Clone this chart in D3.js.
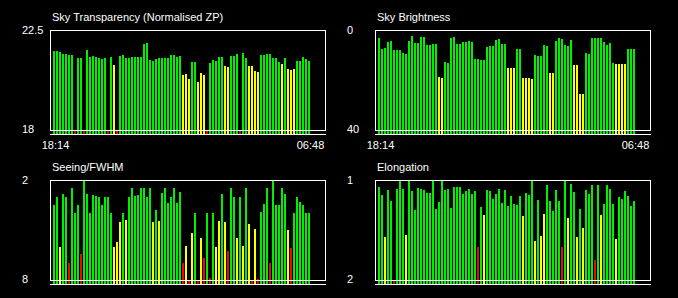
<!DOCTYPE html>
<html>
<head>
<meta charset="utf-8">
<script src="https://cdn.jsdelivr.net/npm/d3@7"></script>
<style>
  body { margin: 0; background: #000; }
  svg { display: block; }
</style>
</head>
<body>
<div class="container"></div>
<script>
// one value per slot, slots run from 18:14 to 06:48
var timeLabels = ["18:14", "06:48"];

var transparency = [21.55, 21.55, 21.51, 21.42, 21.42, 21.38, 21.38, 17.5, 21.24, 21.24,
  17.5, 21.60, 21.29, 21.33, 21.29, 21.24, 21.20, 21.24, 17.5, 21.29,
  20.93, 17.5, 21.33, 21.38, 21.24, 21.24, 21.29, 21.29, 21.29, 21.29,
  21.87, 21.92, 21.15, 21.11, 21.20, 21.24, 21.24, 21.24, 21.24, 21.38,
  21.38, 21.29, 21.33, 20.48, 20.52, 20.30, 21.06, 21.06, 20.16, 20.57,
  20.48, 17.5, 21.02, 21.15, 21.11, 21.29, 21.29, 20.88, 20.84, 21.33,
  21.33, 21.42, 17.5, 21.47, 21.24, 20.88, 20.88, 20.66, 20.61, 21.38,
  21.38, 21.42, 21.42, 21.24, 21.24, 21.06, 20.97, 21.24, 20.75, 20.70,
  20.75, 21.11, 21.11, 21.29, 21.20, 21.11];
var transparencyStatus = "gggggggrgg" + "rgggggggrg" + "yrgggggggg" + "gggggggggg" + "gggyyyggyy" +
  "yrgggggyyg" + "ggrggyyyyg" + "ggggggygyy" + "yggggg";

var brightness = [3.2, 7.6, 7.2, 4.8, 4.4, 8.0, 8.0, 8.0, 9.2, 9.6,
  4.4, 2.4, 5.2, 5.2, 2.8, 2.8, 6.0, 6.0, 5.6, 5.6,
  18.8, 19.2, 12.8, 13.2, 3.2, 2.8, 5.6, 5.6, 4.8, 4.8,
  4.4, 4.8, 11.6, 11.6, 12.0, 12.0, 6.8, 6.4, 6.4, 4.0,
  3.6, 5.6, 5.6, 15.2, 15.2, 15.2, 7.6, 7.6, 19.2, 19.2,
  19.2, 19.6, 10.0, 10.4, 10.4, 6.0, 6.4, 17.2, 17.2, 4.4,
  3.2, 3.6, 6.0, 6.4, 4.0, 14.0, 14.0, 25.6, 25.6, 9.2,
  9.6, 3.2, 3.2, 3.2, 3.2, 4.8, 6.0, 5.2, 13.2, 13.6,
  13.6, 13.6, 13.6, 7.6, 7.6, 7.6];
var brightnessStatus = "gggggggggg" + "gggggggggg" + "yygggggggg" + "gggggggggg" + "gggyyyggyy" +
  "yygggggyyg" + "gggggyyyyg" + "gggggggggy" + "yyyggg";

var seeing = [3.50, 3.02, 6.02, 2.84, 3.02, 6.98, 2.48, 3.98, 3.50, 6.44,
  2.00, 2.84, 3.98, 2.90, 2.96, 3.02, 3.50, 3.02, 3.02, 3.98,
  6.02, 5.72, 4.52, 3.98, 4.40, 3.02, 2.48, 2.96, 2.90, 2.48,
  2.48, 3.02, 2.48, 4.52, 3.80, 4.46, 2.78, 2.48, 3.38, 3.02,
  2.48, 3.38, 2.72, 6.98, 5.96, 8.5, 5.18, 3.98, 8.5, 5.48,
  6.68, 3.98, 7.88, 3.98, 6.02, 4.46, 2.84, 4.52, 6.26, 2.48,
  3.02, 5.48, 3.02, 5.96, 2.48, 4.64, 8.5, 4.94, 7.94, 3.92,
  3.44, 2.48, 6.98, 2.00, 3.50, 3.50, 2.48, 2.84, 5.00, 6.08,
  3.98, 3.02, 3.32, 3.50, 3.98, 3.98];
var seeingStatus = "ggyggrgggr" + "gggggggggg" + "yyygyggggg" + "gggygygggg" + "gggryrygry" +
  "rgrgyygyrg" + "gygygyryrg" + "ggrgggggyr" + "gggggg";

var elongation = [1.07, 1.15, 1.57, 1.10, 1.21, 2.1, 1.09, 1.00, 1.09, 1.55,
  1.00, 1.11, 1.30, 1.08, 1.09, 1.10, 1.13, 1.13, 1.00, 1.29,
  1.22, 1.00, 1.10, 1.09, 1.28, 1.07, 1.07, 1.07, 1.14, 1.11,
  1.09, 1.14, 1.11, 1.67, 1.27, 1.35, 1.10, 1.11, 1.19, 1.14,
  1.09, 1.23, 1.10, 1.26, 1.16, 1.24, 1.25, 1.16, 1.36, 1.13,
  1.15, 1.00, 1.61, 1.20, 1.56, 1.34, 1.05, 1.21, 1.31, 1.10,
  1.21, 1.67, 1.00, 1.38, 1.04, 1.12, 1.57, 1.29, 1.48, 1.10,
  1.14, 1.05, 1.80, 1.05, 1.35, 1.24, 1.05, 1.09, 1.24, 1.59,
  1.17, 1.19, 1.11, 1.16, 1.26, 1.21];
var elongationStatus = "ggyggrgggy" + "gggggggggg" + "gggggggggg" + "gggrgygggg" + "ggggggggyg" +
  "ggygyygggg" + "grgyggygyg" + "ggrgyggggy" + "gggggg";

var statusColor = {g: "#00ee00", y: "#ffff00", r: "#ff0000"};

var width = 678, height = 298;
var frameW = 275, frameH = 100;

var panels = [
  {title: "Sky Transparency (Normalised ZP)", values: transparency, status: transparencyStatus,
   domain: [22.5, 18], ticks: ["22.5", "18"], left: 50, top: 30, labelX: 22, times: true},
  {title: "Sky Brightness", values: brightness, status: brightnessStatus,
   domain: [0, 40], ticks: ["0", "40"], left: 375, top: 30, labelX: 347, times: true},
  {title: "Seeing/FWHM", values: seeing, status: seeingStatus,
   domain: [2, 8], ticks: ["2", "8"], left: 50, top: 180, labelX: 22, times: false},
  {title: "Elongation", values: elongation, status: elongationStatus,
   domain: [1, 2], ticks: ["1", "2"], left: 375, top: 180, labelX: 347, times: false}
];

var svg = d3.select("div.container").append("svg")
    .attr("width", width)
    .attr("height", height)
    .style("font-family", "Arial, 'Liberation Sans', sans-serif")
    .style("font-size", "11px");

svg.append("rect")
    .attr("width", width)
    .attr("height", height)
    .attr("fill", "#000");

panels.forEach(function (p) {
  var n = p.values.length;
  var x_scale = d3.scaleLinear().domain([0, n]).range([p.left + 3, p.left + 3 + 3 * n]);
  var y_scale = d3.scaleLinear().domain(p.domain).range([p.top, p.top + frameH]).clamp(true);
  var base = p.top + frameH + 4;

  var g = svg.append("g");

  g.selectAll("rect.bar")
      .data(p.values)
    .enter().append("rect")
      .attr("class", "bar")
      .attr("x", function (d, i) { return x_scale(i); })
      .attr("y", function (d) { return y_scale(d); })
      .attr("width", 2)
      .attr("height", function (d) { return base - y_scale(d); })
      .attr("fill", function (d, i) { return statusColor[p.status[i]]; })
      .attr("shape-rendering", "crispEdges");

  // frame and the base line under it
  g.append("rect")
      .attr("x", p.left + 0.5)
      .attr("y", p.top + 0.5)
      .attr("width", frameW)
      .attr("height", frameH)
      .attr("fill", "none")
      .attr("stroke", "#fff")
      .attr("stroke-width", 1);

  g.append("rect")
      .attr("x", p.left)
      .attr("y", base)
      .attr("width", frameW + 1)
      .attr("height", 1)
      .attr("fill", "#fff");

  g.append("text")
      .attr("x", p.left + 2)
      .attr("y", p.top - 9)
      .attr("fill", "#fff")
      .text(p.title);

  g.append("text")
      .attr("x", p.labelX)
      .attr("y", y_scale(p.domain[0]) + 4)
      .attr("fill", "#fff")
      .text(p.ticks[0]);

  g.append("text")
      .attr("x", p.labelX)
      .attr("y", y_scale(p.domain[1]) + 3)
      .attr("fill", "#fff")
      .text(p.ticks[1]);

  if (p.times) {
    g.selectAll("text.time")
        .data(timeLabels)
      .enter().append("text")
        .attr("class", "time")
        .attr("x", function (d, i) { return x_scale(i * (n - 1)) + 2.5; })
        .attr("y", base + 15)
        .attr("text-anchor", "middle")
        .attr("fill", "#fff")
        .text(function (d) { return d; });
  }
});
</script>
</body>
</html>
